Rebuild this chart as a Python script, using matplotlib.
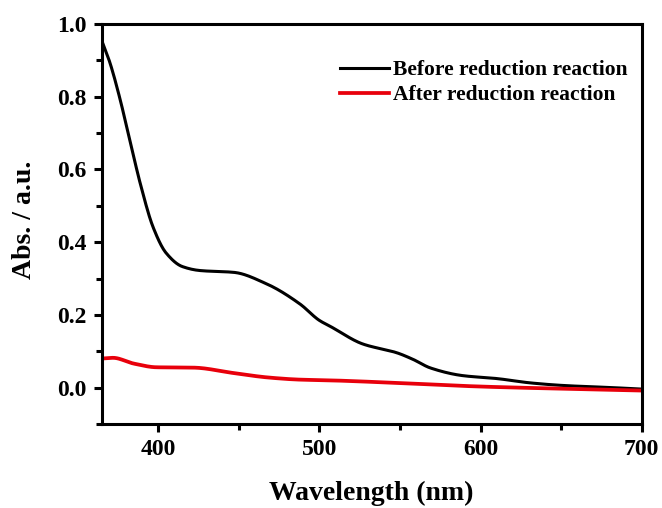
import matplotlib
matplotlib.use("Agg")
import matplotlib.pyplot as plt
import numpy as np
from matplotlib.ticker import MultipleLocator, FormatStrFormatter

plt.rcParams['font.family'] = ['Liberation Serif', 'DejaVu Serif']
plt.rcParams['font.weight'] = 'bold'

wl_before = [365, 370, 376, 383, 389, 397, 405, 415, 426, 447, 467, 488, 500, 507,
             527, 548, 558, 569, 589, 610, 631, 651, 682, 700]
abs_before = [0.955, 0.895, 0.80, 0.67, 0.56, 0.44, 0.37, 0.333, 0.322, 0.317, 0.286,
              0.23, 0.185, 0.168, 0.12, 0.096, 0.078, 0.054, 0.033, 0.025, 0.013,
              0.006, 0.0, -0.004]

wl_after = [365, 372, 385, 399, 422, 447, 468, 488, 507, 548, 600, 651, 700]
abs_after = [0.080, 0.082, 0.066, 0.056, 0.055, 0.040, 0.028, 0.022, 0.020, 0.013,
             0.003, -0.003, -0.008]

labels = ['Before reduction reaction', 'After reduction reaction']
x_ticks = [400, 500, 600, 700]
y_ticks = [0.0, 0.2, 0.4, 0.6, 0.8, 1.0]

fig = plt.figure(figsize=(6.62, 5.08), dpi=100)
ax = fig.add_axes([101.7/662, 1 - 424/508, (641.7-101.7)/662, (424-24)/508])


def smooth(x, y):
    x = np.asarray(x, float); y = np.asarray(y, float)
    xs = np.linspace(x.min(), x.max(), 500)
    h = np.diff(x); d = np.diff(y) / h
    m = np.zeros_like(y)
    m[0] = d[0]; m[-1] = d[-1]
    for i in range(1, len(y) - 1):
        if d[i-1] * d[i] <= 0:
            m[i] = 0
        else:
            w1 = 2*h[i] + h[i-1]; w2 = h[i] + 2*h[i-1]
            m[i] = (w1 + w2) / (w1/d[i-1] + w2/d[i])
    idx = np.clip(np.searchsorted(x, xs) - 1, 0, len(x) - 2)
    t = (xs - x[idx]) / h[idx]
    h00 = 2*t**3 - 3*t**2 + 1; h10 = t**3 - 2*t**2 + t
    h01 = -2*t**3 + 3*t**2; h11 = t**3 - t**2
    ys = h00*y[idx] + h10*h[idx]*m[idx] + h01*y[idx+1] + h11*h[idx]*m[idx+1]
    return xs, ys


xb, yb = smooth(wl_before, abs_before)
xa, ya = smooth(wl_after, abs_after)
ax.plot(xb, yb, color='black', lw=2.2, label=labels[0])
ax.plot(xa, ya, color='#e8000b', lw=2.7, label=labels[1])

ax.set_xlim(365, 700)
ax.set_ylim(-0.1, 1.0)
ax.set_xticks(x_ticks)
ax.set_yticks(y_ticks)
ax.xaxis.set_minor_locator(MultipleLocator(50))
ax.yaxis.set_minor_locator(MultipleLocator(0.1))
ax.yaxis.set_major_formatter(FormatStrFormatter('%.1f'))

for s in ax.spines.values():
    s.set_linewidth(2.2)
ax.tick_params(which='major', direction='out', length=6, width=2.2, labelsize=17, pad=5)
ax.tick_params(which='minor', direction='out', length=4, width=2.2)
for lab in ax.get_xticklabels() + ax.get_yticklabels():
    lab.set_fontweight('bold')

ax.set_xlabel('Wavelength (nm)', fontsize=20, fontweight='bold')
ax.set_ylabel('Abs. / a.u.', fontsize=20, fontweight='bold')
ax.xaxis.set_label_coords(0.5, -0.1425)
ax.yaxis.set_label_coords(-0.12, 0.51)

leg = ax.legend(loc='upper left', frameon=False, fontsize=15.5, handlelength=2.3,
                handletextpad=0.15, labelspacing=0.24, borderpad=0.0, borderaxespad=0.0,
                bbox_to_anchor=(0.441, 0.91))
for t in leg.get_texts():
    t.set_fontweight('bold')

fig.savefig('out.png', dpi=100)
